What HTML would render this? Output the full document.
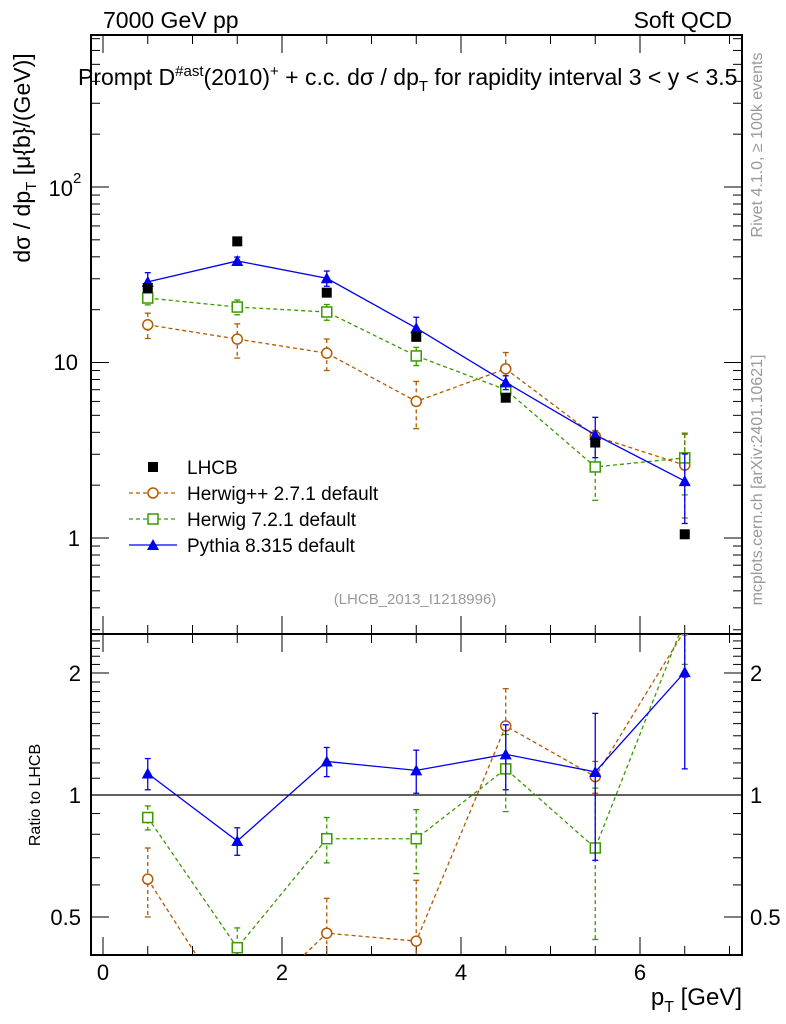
<!DOCTYPE html>
<html><head><meta charset="utf-8">
<style>
html,body{margin:0;background:#fff;overflow:hidden;width:786px;height:1024px;}
svg{display:block;font-family:"Liberation Sans",sans-serif;}
</style></head>
<body>
<svg id="c" width="786" height="1024" viewBox="0 0 786 1024"></svg>
<script>
const xcats=[0.5,1.5,2.5,3.5,4.5,5.5,6.5];
const lhcb=[26.6,49,25,14,6.3,3.5,1.05];
const hpp=[16.4,13.6,11.3,6.0,9.2,3.8,2.6];
const hppErr=[2.7,3,2.3,1.8,2.2,0.3,1.3];
const h7=[23.3,20.7,19.4,10.9,7.0,2.54,2.86];
const h7Err=[2,2,2,1.3,0.7,0.9,1.1];
const py=[28.8,37.9,30.2,15.7,7.7,3.87,2.11];
const pyErr=[3.7,2,3,2.4,0.7,1.0,0.9];
const rPy=[1.13,0.77,1.21,1.15,1.26,1.14,2.01];
const rPyErr=[0.1,0.06,0.1,0.14,0.23,0.45,0.85];
const rH7=[0.88,0.42,0.78,0.78,1.16,0.74,2.7];
const rH7Err=[0.06,0.05,0.1,0.14,0.25,0.3,0.6];
const rHpp=[0.62,0.28,0.456,0.436,1.48,1.11,2.55];
const rHppErr=[0.12,0.08,0.1,0.18,0.35,0.1,0.6];
const xTicks=[0,2,4,6];
const rTicks=[0.5,1,2];

const NS="http://www.w3.org/2000/svg";
const svg=document.getElementById('c');
function el(tag,attrs,parent){const e=document.createElementNS(NS,tag);for(const k in attrs)e.setAttribute(k,attrs[k]);(parent||svg).appendChild(e);return e;}
const L=91,R=742,T=35,M=634,B=955;
const X=v=>103+v*89.5;
const Y=v=>538-Math.log10(v)*175.5;
const RY=v=>795-Math.log2(v)*122;

const defs=el('defs',{});
const cp1=el('clipPath',{id:'cm'},defs);el('rect',{x:L,y:T,width:R-L,height:M-T},cp1);
const cp2=el('clipPath',{id:'cr'},defs);el('rect',{x:L,y:M,width:R-L,height:B-M},cp2);

const tg=el('g',{stroke:'#000','stroke-width':1});

for(let d=-1;d<=2;d++)for(let m=1;m<=9;m++){const v=m*Math.pow(10,d);const y=Y(v);if(y<T||y>M)continue;const len=m==1?18:9;
 el('line',{x1:L,x2:L+len,y1:y,y2:y},tg);el('line',{x1:R,x2:R-len,y1:y,y2:y},tg);}
for(let v=0.3;v<2.6;v+=0.1){const vv=Math.round(v*10)/10;const y=RY(vv);if(y<M||y>B)continue;const maj=rTicks.includes(vv);const len=maj?18:9;
 el('line',{x1:L,x2:L+len,y1:y,y2:y},tg);el('line',{x1:R,x2:R-len,y1:y,y2:y},tg);}
for(let v=-0.5;v<=7;v+=0.5){const x=X(v);if(x<L||x>R)continue;const maj=Number.isInteger(v)&&v%2==0;const len=maj?18:9;
 [[T,1],[M,-1],[M,1],[B,-1]].forEach(([y0,s])=>el('line',{x1:x,x2:x,y1:y0,y2:y0+s*len},tg));}
const fr=el('g',{fill:'none',stroke:'#000','stroke-width':2});

el('rect',{x:L,y:T,width:R-L,height:M-T},fr);el('rect',{x:L,y:M,width:R-L,height:B-M},fr);
el('line',{x1:L,x2:R,y1:RY(1),y2:RY(1),stroke:'#000','stroke-width':1.2});

function txt(s,a,name){const t=el('text',a);t.textContent=s;return t;}
xTicks.forEach(v=>txt(String(v),{x:X(v),y:980,'font-size':22,'text-anchor':'middle'},'x-tick-label'));
txt('10',{x:78,y:370,'font-size':22,'text-anchor':'end'},'y-tick-label');
txt('1',{x:80,y:546,'font-size':22,'text-anchor':'end'},'y-tick-label');
txt('10',{x:73,y:196,'font-size':22,'text-anchor':'end'},'y-tick-label');
txt('2',{x:73,y:183,'font-size':15},'y-tick-exponent');
[[2,'2'],[1,'1'],[0.5,'0.5']].forEach(([v,s])=>{txt(s,{x:81,y:RY(v)+8,'font-size':22,'text-anchor':'end'},'ratio-tick-label');txt(s,{x:750,y:RY(v)+8,'font-size':22},'ratio-tick-label-right');});

function series(vals,errs,yf,color,dash,marker,clip,name){
 const g=el('g',{'clip-path':'url(#'+clip+')'});
 const pts=xcats.map((x,i)=>X(x)+','+yf(vals[i])).join(' ');
 el('polyline',{points:pts,fill:'none',stroke:color,'stroke-width':1.3,'stroke-dasharray':dash},g);
 xcats.forEach((x,i)=>{const cx=X(x),cy=yf(vals[i]);
  if(errs){const hi=yf(vals[i]+errs[i]),lo=yf(Math.max(vals[i]-errs[i],0.01));
   el('line',{x1:cx,x2:cx,y1:hi,y2:lo,stroke:color,'stroke-width':1.3,'stroke-dasharray':dash},g);
   el('line',{x1:cx-3,x2:cx+3,y1:hi,y2:hi,stroke:color,'stroke-width':1.3},g);
   el('line',{x1:cx-3,x2:cx+3,y1:lo,y2:lo,stroke:color,'stroke-width':1.3},g);}
  drawMarker(marker,cx,cy,color,g);});
}
function drawMarker(m,cx,cy,color,g){
 let e;
 if(m=='o')e=el('circle',{cx:cx,cy:cy,r:5,fill:'#fff',stroke:color,'stroke-width':1.5},g);
 else if(m=='s')e=el('rect',{x:cx-5,y:cy-5,width:10,height:10,fill:'#fff',stroke:color,'stroke-width':1.5},g);
 else if(m=='t')e=el('polygon',{points:`${cx},${cy-6} ${cx-6},${cy+5} ${cx+6},${cy+5}`,fill:color},g);
 else e=el('rect',{x:cx-5,y:cy-5,width:10,height:10,fill:'#000'},g);
 
}
series(hpp,hppErr,Y,'#b35a00','4,3','o','cm','herwigpp-series');
series(h7,h7Err,Y,'#3a9a00','4,3','s','cm','herwig7-series');
series(py,pyErr,Y,'#0000ee','','t','cm','pythia-series');
const lg=el('g',{});
xcats.forEach((x,i)=>drawMarker('d',X(x),Y(lhcb[i]),'#000',lg));
series(rHpp,rHppErr,RY,'#b35a00','4,3','o','cr','ratio-herwigpp');
series(rH7,rH7Err,RY,'#3a9a00','4,3','s','cr','ratio-herwig7');
series(rPy,rPyErr,RY,'#0000ee','','t','cr','ratio-pythia');

const leg=[['LHCB','d','#000',null],['Herwig++ 2.7.1 default','o','#b35a00','4,3'],['Herwig 7.2.1 default','s','#3a9a00','4,3'],['Pythia 8.315 default','t','#0000ee','']];
leg.forEach((l,i)=>{const y=467+i*26;const g=el('g',{});
 if(l[3]!==null)el('line',{x1:129,x2:177,y1:y,y2:y,stroke:l[2],'stroke-width':1.3,'stroke-dasharray':l[3]},g);
 drawMarker(l[1],153,y,l[2],g);
 const t=el('text',{x:187,y:y+7,'font-size':19},g);t.textContent=l[0];});

txt('7000 GeV pp',{x:103,y:28,'font-size':23},'energy-label');
txt('Soft QCD',{x:732,y:28,'font-size':23,'text-anchor':'end'},'process-label');
const title=txt('',{x:78,y:85,'font-size':23,'xml:space':'preserve'},'plot-title');
title.innerHTML='Prompt D<tspan dy="-9" font-size="15">#ast</tspan><tspan dy="9">(2010)</tspan><tspan dy="-9" font-size="15">+</tspan><tspan dy="9"> + c.c.  dσ / dp</tspan><tspan dy="6" font-size="15">T</tspan><tspan dy="-6"> for rapidity interval 3 &lt; y &lt; 3.5</tspan>';
txt('(LHCB_2013_I1218996)',{x:415,y:604,'font-size':15,fill:'#999','text-anchor':'middle'},'analysis-id');
const yl=txt('',{transform:'translate(30,158) rotate(-90)','font-size':23,'text-anchor':'middle'},'y-axis-title');
yl.innerHTML='dσ / dp<tspan dy="6" font-size="15">T</tspan><tspan dy="-6"> [μ{b}/(GeV)]</tspan>';
txt('Ratio to LHCB',{transform:'translate(40,795) rotate(-90)','font-size':16,'text-anchor':'middle'},'ratio-axis-title');
const xl=txt('',{x:742,y:1005,'font-size':24,'text-anchor':'end'},'x-axis-title');
xl.innerHTML='p<tspan dy="7" font-size="16">T</tspan><tspan dy="-7"> [GeV]</tspan>';
txt('Rivet 4.1.0, ≥ 100k events',{transform:'translate(762,145) rotate(-90)','font-size':16,fill:'#999','text-anchor':'middle'},'rivet-label');
txt('mcplots.cern.ch [arXiv:2401.10621]',{transform:'translate(762,480) rotate(-90)','font-size':16,fill:'#999','text-anchor':'middle'},'mcplots-label');
</script>
</body></html>
